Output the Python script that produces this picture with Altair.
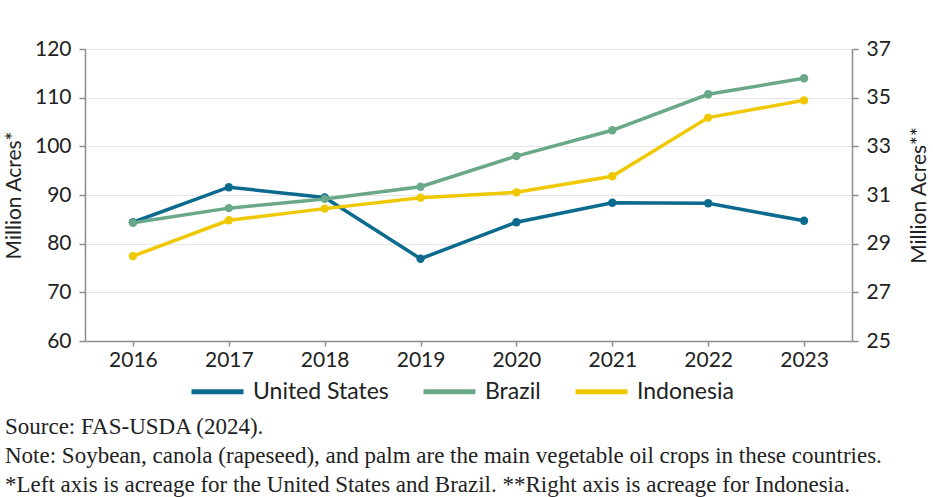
import altair as alt
import pandas as pd

years = ["2016", "2017", "2018", "2019", "2020", "2021", "2022", "2023"]
us = [84.4, 91.6, 89.5, 76.9, 84.4, 88.4, 88.3, 84.7]
brazil = [84.3, 87.3, 89.2, 91.7, 98.0, 103.3, 110.7, 114.0]
indonesia = [28.49, 29.96, 30.44, 30.89, 31.11, 31.77, 34.18, 34.89]

series = ["United States", "Brazil", "Indonesia"]
colors = ["#0b6a8e", "#6aa88a", "#f0c800"]
notes = [
    "Source: FAS-USDA (2024).",
    "Note: Soybean, canola (rapeseed), and palm are the main vegetable oil crops in these countries.",
    "*Left axis is acreage for the United States and Brazil. **Right axis is acreage for Indonesia.",
]

left_df = pd.DataFrame({
    "year": years * 2,
    "value": us + brazil,
    "series": ["United States"] * len(years) + ["Brazil"] * len(years),
    "order": [0] * len(years) + [1] * len(years),
})
right_df = pd.DataFrame({"year": years, "value": indonesia, "series": ["Indonesia"] * len(years)})

FONT = "Lato"
x_enc = alt.X("year:O", scale=alt.Scale(type="point", padding=0.5),
              axis=alt.Axis(title=None, labelAngle=0, labelFontSize=21, labelPadding=3,
                            tickSize=5, grid=False))
color_enc = alt.Color("series:N", scale=alt.Scale(domain=series, range=colors),
                      legend=alt.Legend(title=None, orient="none", legendX=104, legendY=314,
                                        direction="horizontal", symbolType="stroke",
                                        symbolStrokeWidth=5, symbolSize=2700,
                                        labelFontSize=23, labelFont=FONT, labelColor="#222",
                                        labelOffset=7, columnPadding=24))

left = alt.Chart(left_df).mark_line(
    strokeWidth=3.5, point=alt.OverlayMarkDef(size=70, filled=True, opacity=1)
).encode(
    x=x_enc,
    y=alt.Y("value:Q", scale=alt.Scale(domain=[60, 120], nice=False, zero=False),
            axis=alt.Axis(title="Million Acres*", orient="left", values=list(range(60, 121, 10)),
                          labelFontSize=21, labelPadding=8, tickSize=6, titleFontSize=21,
                          titleFontWeight="normal", titleAngle=270, titlePadding=10)),
    color=color_enc,
    detail="series:N",
    order="order:Q",
)

right = alt.Chart(right_df).mark_line(
    strokeWidth=3.5, point=alt.OverlayMarkDef(size=70, filled=True, opacity=1)
).encode(
    x=x_enc,
    y=alt.Y("value:Q", scale=alt.Scale(domain=[25, 37], nice=False, zero=False),
            axis=alt.Axis(title="Million Acres**", orient="right", values=list(range(25, 38, 2)),
                          labelFontSize=21, labelPadding=8, tickSize=6, titleFontSize=21,
                          titleFontWeight="normal", titleAngle=270, titlePadding=39, grid=False)),
    color=color_enc,
)

note_layers = []
for i, line in enumerate(notes):
    note_layers.append(
        alt.Chart(pd.DataFrame({"t": [line]})).mark_text(
            align="left", baseline="alphabetic", font="Liberation Serif", fontSize=23, color="#222"
        ).encode(text="t:N", x=alt.value(-80), y=alt.value(385 + i * 29))
    )

chart = alt.layer(left, right, *note_layers).resolve_scale(y="independent").properties(
    width=767, height=292,
    autosize=alt.AutoSizeParams(type="none"),
    padding={"left": 85, "top": 49, "right": 81, "bottom": 156},
).configure_view(stroke=None).configure_axis(
    labelFont=FONT, titleFont=FONT, labelColor="#222", titleColor="#222",
    domainColor="#8c8c8c", tickColor="#8c8c8c", domainWidth=1.5, tickWidth=1.5,
    gridColor="#e6e6e6", gridWidth=1.2,
)

chart.save("out.html", embed_options={"renderer": "svg", "actions": False})
